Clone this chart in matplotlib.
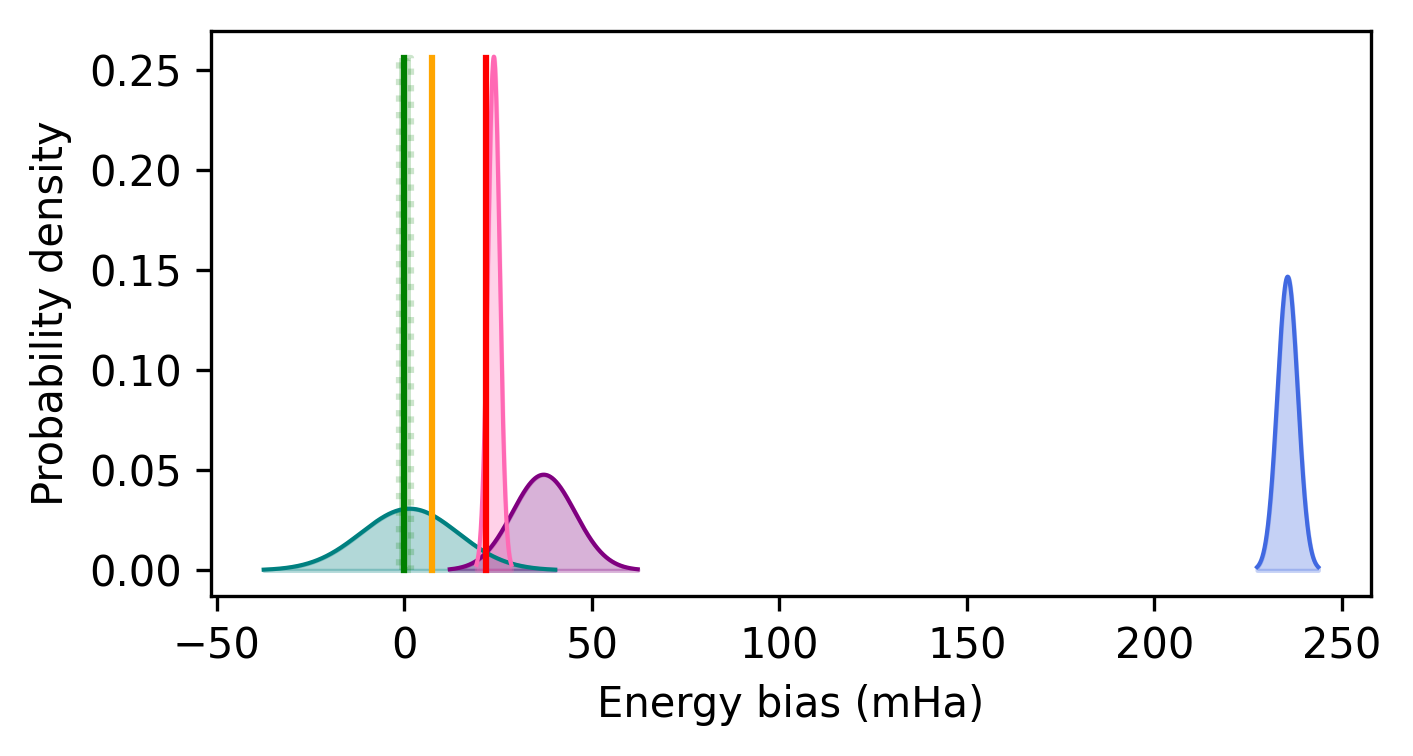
import numpy as np
import matplotlib
matplotlib.use("Agg")
import matplotlib.pyplot as plt

# Gaussian bias distributions (mean, std in mHa)
dist_names = ["teal", "purple", "pink", "blue"]
dist_means = [1.4, 37.2, 23.9, 235.5]
dist_stds = [12.95, 8.35, 1.555, 2.72]
dist_colors = ["teal", "purple", "hotpink", "royalblue"]

# Point estimates (vertical lines)
line_values = [0.0, 7.4, 21.8]
line_colors = ["green", "orange", "red"]
band_center = 0.25
band_halfwidth = 1.6

DPI = 300
fig, ax = plt.subplots(figsize=(1414 / DPI, 756 / DPI), dpi=DPI)

pdf_max = 0.0
for m, s, c in zip(dist_means, dist_stds, dist_colors):
    x = np.linspace(m - 3 * s, m + 3 * s, 400)
    y = np.exp(-0.5 * ((x - m) / s) ** 2) / (s * np.sqrt(2 * np.pi))
    pdf_max = max(pdf_max, y.max())
    ax.plot(x, y, color=c, lw=1.0)
    ax.fill_between(x, 0, y, color=c, alpha=0.3)

ymax = pdf_max * 0.997
ax.fill_betweenx([0, ymax], band_center - band_halfwidth, band_center + band_halfwidth,
                 color="green", alpha=0.2, linestyle=":", linewidth=1.5)
for v, c in zip(line_values, line_colors):
    ax.plot([v, v], [0, ymax], color=c, lw=1.5)

ax.set_xlabel("Energy bias (mHa)", fontsize=10)
ax.set_ylabel("Probability density", fontsize=10)
ax.tick_params(labelsize=10)
ax.set_xticks([-50, 0, 50, 100, 150, 200, 250])
ax.set_yticks([0.0, 0.05, 0.10, 0.15, 0.20, 0.25])

fig.subplots_adjust(left=0.1492, right=0.9696, top=0.959, bottom=0.2116)
fig.savefig("out.png", dpi=DPI)
